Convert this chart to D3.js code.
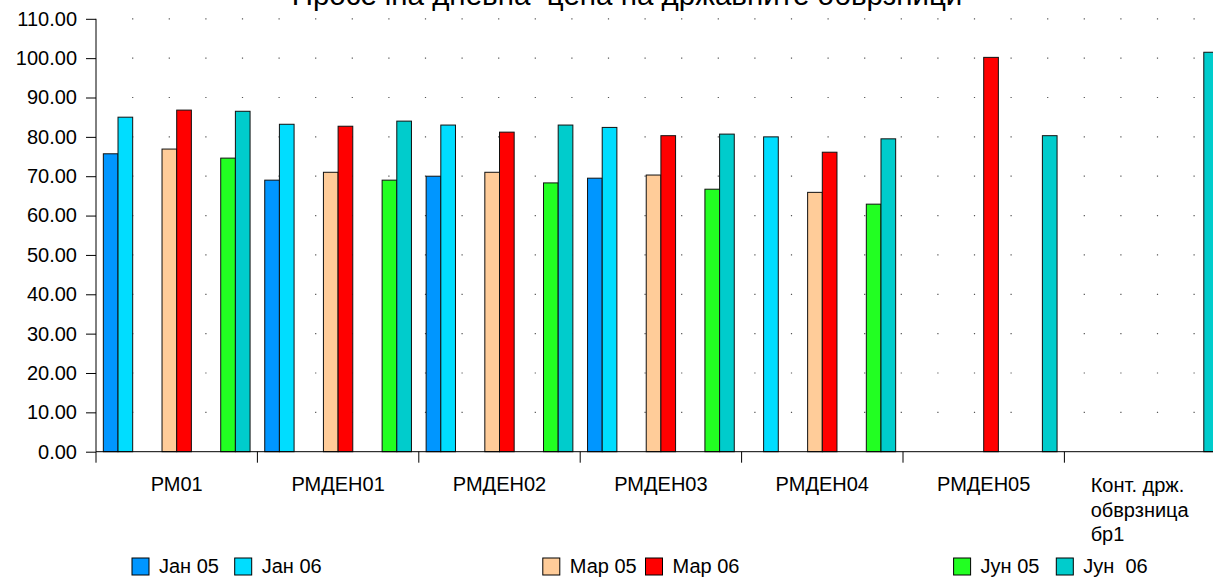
<!DOCTYPE html>
<html>
    <head>
        <meta charset="utf-8">
        <title></title>
        <script src="https://d3js.org/d3.v7.min.js"></script>
    </head>

    <body style="margin:0">
        <svg id="chart" width="1213" height="578"></svg>
    </body>

    <script>

        // categories and series (blank names are spacer series, as in the original)
        var categories = ["РМ01", "РМДЕН01", "РМДЕН02", "РМДЕН03", "РМДЕН04", "РМДЕН05", "Конт. држ. обврзница бр1"]
        var seriesNames = ["Јан 05", "Јан 06", "", "", "Мар 05", "Мар 06", "", "", "Јун 05", "Јун  06"]
        var seriesColors = ["#0096ff", "#00ddff", null, null, "#ffcc99", "#ff0000", null, null, "#22ff22", "#00cccc"]

        var jan05 = [75.7, 69.0, 70.0, 69.5, null, null, null]
        var jan06 = [85.0, 83.2, 83.0, 82.4, 80.0, null, null]
        var mar05 = [76.9, 71.0, 71.0, 70.3, 65.9, null, null]
        var mar06 = [86.8, 82.7, 81.2, 80.3, 76.1, 100.2, null]
        var jun05 = [74.6, 69.0, 68.3, 66.7, 62.9, null, null]
        var jun06 = [86.5, 84.0, 83.0, 80.7, 79.5, 80.3, 101.5]
        var blank = [null, null, null, null, null, null, null]

        var seriesValues = [jan05, jan06, blank, blank, mar05, mar06, blank, blank, jun05, jun06]
        var yTicks = [0, 10, 20, 30, 40, 50, 60, 70, 80, 90, 100, 110]

        var svg = d3.select("svg")
        var font = "'Liberation Sans', Arial, sans-serif"

        var plotLeft = 96, plotTop = 18.8, plotBottom = 451.7, groupW = 161.4

        // group scale (plot runs past the right edge, like the source image)
        var x0 = d3.scaleBand()
        .domain(categories)
        .range([plotLeft, plotLeft + groupW * categories.length])
        .padding(0)

        var x1 = d3.scaleBand()
        .domain(d3.range(seriesNames.length))
        .range([0, x0.bandwidth()])
        .paddingInner(0)
        .paddingOuter(0.5)

        var y = d3.scaleLinear()
        .domain([0, 110])
        .range([plotBottom, plotTop])

        // dotted gridlines
        svg.append("g")
        .selectAll("line")
        .data(yTicks.slice(1))
        .enter().append("line")
        .attr("x1", plotLeft + 36.1)
        .attr("x2", 1213)
        .attr("y1", function(d){ return y(d) })
        .attr("y2", function(d){ return y(d) })
        .style("stroke", "#555")
        .style("stroke-width", 1.2)
        .style("stroke-dasharray", "1.2 35.4")

        // bars
        var rows = []
        seriesValues.forEach(function(vals, s){
            vals.forEach(function(v, c){
                if (v != null) rows.push({s: s, c: categories[c], v: v})
            })
        })

        svg.append("g")
        .selectAll("rect")
        .data(rows)
        .enter().append("rect")
        .attr("x", function(d){ return x0(d.c) + x1(d.s) })
        .attr("y", function(d){ return y(d.v) })
        .attr("width", x1.bandwidth())
        .attr("height", function(d){ return y(0) - y(d.v) })
        .style("fill", function(d){ return seriesColors[d.s] })
        .style("stroke", "#111")
        .style("stroke-width", 1)

        // y axis
        var yAxis = svg.append("g")
        .attr("transform", "translate(" + plotLeft + ",0)")
        .call(d3.axisLeft(y).tickValues(yTicks).tickFormat(d3.format(".2f")).tickSize(10).tickPadding(9))
        yAxis.selectAll("text").style("font-family", font).style("font-size", "20px").style("fill", "#000")
        yAxis.selectAll("line, path").style("stroke", "#000")
        yAxis.select("path").attr("d", "M0," + plotTop + "V" + plotBottom)

        // x axis line and group ticks
        var xAxis = svg.append("g")
        xAxis.append("line")
        .attr("x1", plotLeft).attr("x2", 1213)
        .attr("y1", plotBottom).attr("y2", plotBottom)
        .style("stroke", "#000")

        xAxis.selectAll(".gt")
        .data(categories)
        .enter().append("line")
        .attr("x1", function(d){ return x0(d) })
        .attr("x2", function(d){ return x0(d) })
        .attr("y1", plotBottom)
        .attr("y2", plotBottom + 11)
        .style("stroke", "#000")

        // category labels (last one wraps to three lines)
        categories.forEach(function(c){
            var cx = x0(c) + x0.bandwidth() / 2
            if (c.indexOf("Конт") === 0) {
                var lines = ["Конт. држ.", "обврзница", "бр1"]
                var t = svg.append("text")
                .style("font-family", font).style("font-size", "20px")
                lines.forEach(function(l, i){
                    t.append("tspan").attr("x", 0).attr("y", 492 + i * 24.5).text(l)
                })
                var w = t.node().getBBox().width
                t.attr("transform", "translate(" + (cx - w / 2 - 5) + ",0)")
            } else {
                svg.append("text")
                .attr("x", cx).attr("y", 491)
                .attr("text-anchor", "middle")
                .style("font-family", font).style("font-size", "20px")
                .text(c)
            }
        })

        // title (top is cut off in the source)
        svg.append("text")
        .attr("x", 627)
        .attr("y", 5)
        .attr("text-anchor", "middle")
        .attr("xml:space", "preserve")
        .style("white-space", "pre")
        .style("font-family", font)
        .style("font-size", "29.5px")
        .text("Просечна дневна  цена на државните обврзници")

        // legend
        var lx = d3.scaleLinear().domain([0, 1]).range([132, 234.7])
        var legend = svg.append("g")
        .selectAll("g")
        .data(d3.range(seriesNames.length).filter(function(i){ return seriesColors[i] }))
        .enter().append("g")
        .attr("transform", function(i){ return "translate(" + lx(i) + ",558)" })

        legend.append("rect")
        .attr("width", 17).attr("height", 17)
        .style("fill", function(i){ return seriesColors[i] })
        .style("stroke", "#000")

        legend.append("text")
        .attr("x", 27).attr("y", 15)
        .attr("xml:space", "preserve")
        .style("white-space", "pre")
        .style("font-family", font).style("font-size", "20px")
        .text(function(i){ return seriesNames[i] })

    </script>
</html>
